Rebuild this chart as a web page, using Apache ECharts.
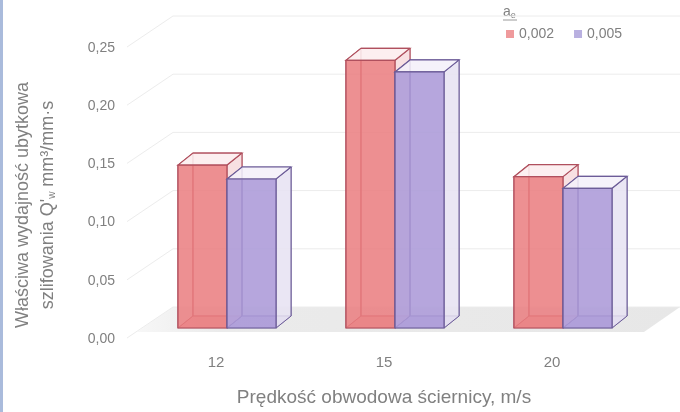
<!DOCTYPE html>
<html>
<head>
<meta charset="utf-8">
<script src="https://cdn.jsdelivr.net/npm/echarts@6/dist/echarts.min.js"></script>
<style>
  html, body { margin: 0; padding: 0; background: #fff; }
  #main { width: 680px; height: 412px; }
</style>
</head>
<body>
<div id="main"></div>
<script>
// dane
var categories = ['12', '15', '20'];
var seriesNames = ['0,002', '0,005'];
var values002 = [0.14, 0.23, 0.13];
var values005 = [0.128, 0.22, 0.12];
var yTicks = [0, 0.05, 0.10, 0.15, 0.20, 0.25];

var myChart = echarts.init(document.getElementById('main'));

// przesunięcia "3D" (w pikselach)
var BAR_SHIFT_X = 11, BAR_SHIFT_Y = -11;   // przód słupka względem osi
var DEPTH_X = 15, DEPTH_Y = -12;           // głębokość słupka
var FLOOR_FRONT_Y = -7, WALL_X = 36, WALL_Y = -32;

var txtColor = '#808080';

function barRenderer(side, colors) {
  return function (params, api) {
    var ci = api.value(0);
    var v = api.value(1);
    var base = api.coord([ci, 0]);
    var peak = api.coord([ci, v]);
    var bw = api.size([1, 0])[0] * 0.292;
    var x0 = base[0] + BAR_SHIFT_X + (side === 0 ? -bw : 0);
    var x1 = x0 + bw;
    var yb = base[1] + BAR_SHIFT_Y;
    var yt = peak[1] + BAR_SHIFT_Y;
    var dx = DEPTH_X, dy = DEPTH_Y;
    return {
      type: 'group',
      children: [
        // tylna ściana
        { type: 'rect', shape: { x: x0 + dx, y: yt + dy, width: bw, height: yb - yt },
          style: { fill: colors.back, stroke: colors.edge, lineWidth: 1 } },
        // dno
        { type: 'polygon', shape: { points: [[x0, yb], [x1, yb], [x1 + dx, yb + dy], [x0 + dx, yb + dy]] },
          style: { fill: colors.face, opacity: 0.5, stroke: colors.edge, lineWidth: 1 } },
        // lewy bok
        { type: 'polygon', shape: { points: [[x0, yt], [x0 + dx, yt + dy], [x0 + dx, yb + dy], [x0, yb]] },
          style: { fill: 'rgba(0,0,0,0)', stroke: colors.edge, lineWidth: 1 } },
        // prawy bok
        { type: 'polygon', shape: { points: [[x1, yt], [x1 + dx, yt + dy], [x1 + dx, yb + dy], [x1, yb]] },
          style: { fill: colors.side, stroke: colors.edge, lineWidth: 1 } },
        // góra
        { type: 'polygon', shape: { points: [[x0, yt], [x1, yt], [x1 + dx, yt + dy], [x0 + dx, yt + dy]] },
          style: { fill: colors.top, stroke: colors.edge, lineWidth: 1.2 } },
        // przód
        { type: 'rect', shape: { x: x0, y: yt, width: bw, height: yb - yt },
          style: { fill: colors.face, stroke: colors.edge, lineWidth: 1.2 } }
      ]
    };
  };
}

var redColors = {
  face: 'rgba(234,125,127,0.85)', edge: '#b0505e', side: 'rgba(246,215,218,0.7)',
  top: 'rgba(252,238,240,0.9)', back: 'rgba(246,222,224,0.3)'
};
var purpleColors = {
  face: 'rgba(172,155,216,0.88)', edge: '#6c5c98', side: 'rgba(232,227,242,0.85)',
  top: 'rgba(244,241,250,0.9)', back: 'rgba(232,227,242,0.3)'
};

function gridRenderer(params, api) {
  var v = api.value(1);
  var cs = params.coordSys;
  var p = api.coord([0, v]);
  var xl = cs.x + 5, xr = cs.x + cs.width + 8;
  var yf = p[1] + FLOOR_FRONT_Y;
  return {
    type: 'polyline',
    shape: { points: [[xl - 10, yf + 6], [xl + WALL_X, p[1] + WALL_Y], [xr + WALL_X, p[1] + WALL_Y]] },
    style: { stroke: '#ececec', lineWidth: 1, fill: null }
  };
}

function floorRenderer(params, api) {
  var cs = params.coordSys;
  var p = api.coord([0, 0]);
  var xl = cs.x + 5, xr = cs.x + cs.width + 8;
  var yf = p[1] + FLOOR_FRONT_Y, yk = p[1] + WALL_Y;
  return {
    type: 'polygon',
    shape: { points: [[xl, yf], [xr, yf], [xr + WALL_X, yk], [xl + WALL_X, yk]] },
    style: {
      fill: new echarts.graphic.LinearGradient(0, 0, 1, 0, [
        { offset: 0, color: '#f7f7f7' },
        { offset: 0.15, color: '#ebebeb' },
        { offset: 1, color: '#e7e7e7' }
      ])
    }
  };
}

var option = {
  animation: false,
  backgroundColor: '#fff',
  grid: { left: 132, right: 44, top: 48, bottom: 73, outerBoundsMode: 'none' },
  legend: {
    data: seriesNames,
    left: 501,
    top: 22,
    icon: 'rect',
    itemWidth: 8,
    itemHeight: 8,
    itemGap: 20,
    textStyle: { color: txtColor, fontSize: 14, fontFamily: 'Liberation Sans' }
  },
  xAxis: {
    type: 'category',
    data: categories,
    axisLine: { show: false },
    axisTick: { show: false },
    axisLabel: { color: txtColor, fontSize: 15, margin: 16, fontFamily: 'Liberation Sans' },
    name: 'Prędkość obwodowa ściernicy, m/s',
    nameLocation: 'middle',
    nameGap: 49,
    nameTextStyle: { color: txtColor, fontSize: 19, fontFamily: 'Liberation Sans' }
  },
  yAxis: {
    type: 'value',
    min: 0,
    max: 0.25,
    interval: 0.05,
    axisLine: { show: false },
    axisTick: { show: false },
    splitLine: { show: false },
    axisLabel: {
      color: txtColor, fontSize: 14, margin: 17, fontFamily: 'Liberation Sans',
      formatter: function (v) { return v.toFixed(2).replace('.', ','); }
    }
  },
  graphic: [
    { type: 'rect', left: 0, top: 0, shape: { width: 3, height: 412 }, style: { fill: '#aabbdc' } },
    {
      type: 'text', x: 36, y: 205, rotation: Math.PI / 2,
      style: {
        text: 'Właściwa wydajność ubytkowa\nszlifowania Q\'{sub|w} mm³/mm·s',
        align: 'center', verticalAlign: 'middle',
        fill: txtColor, fontSize: 18, lineHeight: 25, fontFamily: 'Liberation Sans',
        rich: {
          sub: { fontSize: 10, fill: txtColor, padding: [7, 0, 0, 0], lineHeight: 25 }
        }
      }
    },
    {
      type: 'text', x: 503, y: 5,
      style: {
        text: 'a{sub|e}', fill: txtColor, fontSize: 14, fontFamily: 'Liberation Sans',
        rich: { sub: { fontSize: 9, fill: txtColor, padding: [6, 0, 0, 0] } }
      }
    },
    { type: 'line', shape: { x1: 503, y1: 20, x2: 517, y2: 20 }, style: { stroke: '#9a9a9a', lineWidth: 1 } }
  ],
  series: [
    {
      name: 'floor', type: 'custom', z: 1, silent: true,
      renderItem: floorRenderer, data: [[0, 0]]
    },
    {
      name: 'grid', type: 'custom', z: 1, silent: true,
      renderItem: gridRenderer,
      data: yTicks.map(function (t) { return [0, t]; })
    },
    {
      name: seriesNames[0], type: 'custom', z: 3,
      itemStyle: { color: '#ef9a9c' },
      renderItem: barRenderer(0, redColors),
      data: values002.map(function (v, i) { return [i, v]; })
    },
    {
      name: seriesNames[1], type: 'custom', z: 4,
      itemStyle: { color: '#b9b0e0' },
      renderItem: barRenderer(1, purpleColors),
      data: values005.map(function (v, i) { return [i, v]; })
    }
  ]
};

myChart.setOption(option);
</script>
</body>
</html>
